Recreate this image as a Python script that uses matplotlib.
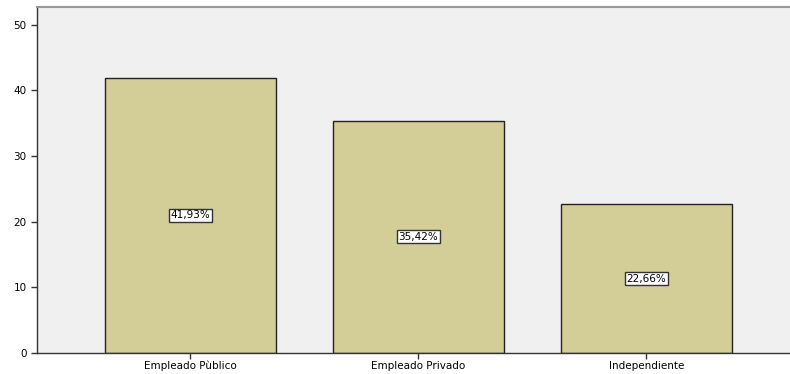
import matplotlib
matplotlib.use('Agg')
import matplotlib.pyplot as plt

categories = ['Empleado Pùblico', 'Empleado Privado', 'Independiente']
percents = [41.93, 35.42, 22.66]
labels = ['41,93%', '35,42%', '22,66%']
yticks = [0, 10, 20, 30, 40, 50]

plt.rcParams.update({'font.family': 'DejaVu Sans', 'font.size': 7.5})

fig = plt.figure(figsize=(7.9, 3.74), dpi=100)
ax = fig.add_axes([0.0468, 0.0561, 0.9532, 0.925])
ax.set_facecolor('#f0f0f0')

x = list(range(len(categories)))
ax.bar(x, percents, width=0.75, color='#d3ce98', edgecolor='#222222', linewidth=1.0, zorder=2)

for xi, v, lab in zip(x, percents, labels):
    ax.text(xi, v / 2, lab, ha='center', va='center', fontsize=7.5, zorder=3,
            bbox=dict(boxstyle='square,pad=0.15', facecolor='white', edgecolor='#333333', linewidth=1.0))

ax.set_xlim(-0.673, 2.63)
ax.set_ylim(0, 52.7)
ax.set_xticks(x)
ax.set_xticklabels(categories)
ax.set_yticks(yticks)
ax.tick_params(axis='both', direction='out', length=4, width=1, colors='#333333', labelcolor='black', labelsize=7.5)
ax.tick_params(axis='x', pad=1.5)

for side in ['left', 'bottom']:
    ax.spines[side].set_color('#333333')
    ax.spines[side].set_linewidth(1.0)
ax.spines['top'].set_color('#999999')
ax.spines['top'].set_linewidth(1.5)
ax.spines['right'].set_visible(False)

fig.savefig('out.png', dpi=100)
